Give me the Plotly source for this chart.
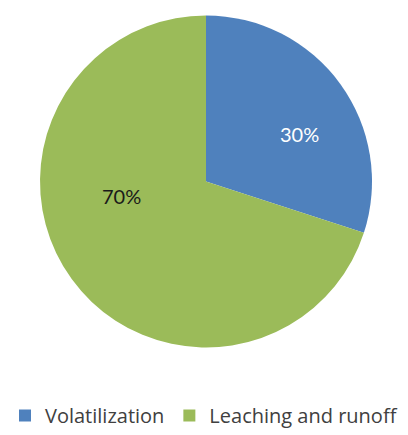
import plotly.graph_objects as go

# data
labels = ["Volatilization", "Leaching and runoff"]
values = [30, 70]
colors = ["#4F81BD", "#9BBB59"]
text_colors = ["white", "#1a1a1a"]
# where the data labels sit (paper coords), excel-style placement
label_pos = [(0.733, 0.692), (0.299, 0.550)]


def create_plot():
    fig = go.Figure(go.Pie(
        labels=labels,
        values=values,
        sort=False,
        direction="clockwise",
        rotation=0,
        marker=dict(colors=colors, line=dict(width=0)),
        textinfo="none",
        domain=dict(x=[40 / 408, 372 / 408], y=[87 / 435, 420 / 435]),
        hoverinfo="label+percent",
    ))
    total = sum(values)
    for v, c, (x, y) in zip(values, text_colors, label_pos):
        fig.add_annotation(x=x, y=y, xref="paper", yref="paper", showarrow=False,
                           xanchor="center", yanchor="middle",
                           text=f"{round(100 * v / total)}%",
                           font=dict(size=20, family="Lato", color=c))
    fig.update_layout(
        width=408, height=435,
        margin=dict(l=0, r=0, t=0, b=0),
        paper_bgcolor="white",
        showlegend=True,
        # keep legend inside the paper or it pushes margins and shrinks the pie
        legend=dict(orientation="h", x=0.5, xanchor="center", y=0, yanchor="bottom",
                    font=dict(size=20, family="Open Sans", color="#404040"),
                    itemwidth=30),
    )
    # page has a default 8px body margin, drop it
    fig.write_html("out.html", config={"displayModeBar": False},
                   post_script="document.body.style.margin='0px';")


if __name__ == "__main__":
    create_plot()
